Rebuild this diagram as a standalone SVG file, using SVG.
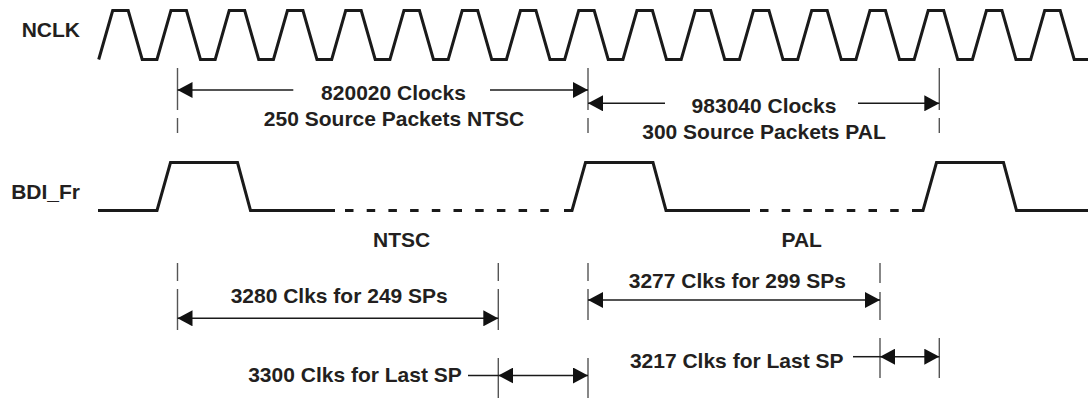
<svg xmlns="http://www.w3.org/2000/svg" width="1088" height="398" viewBox="0 0 1088 398">
<style>
.sig{fill:none;stroke:#1a1a1a;stroke-width:3;stroke-linejoin:miter}
.dsh{fill:none;stroke:#1a1a1a;stroke-width:3;stroke-dasharray:8.5 13.2}
.ext{fill:none;stroke:#555;stroke-width:1.4}
.dim{fill:none;stroke:#1a1a1a;stroke-width:1.5}
.arr{marker-end:url(#ah)}
.dbl{marker-start:url(#ah);marker-end:url(#ah)}
text{font-family:"Liberation Sans",Arial,Helvetica,sans-serif;font-weight:bold;font-size:21px;fill:#231f20}
.m{text-anchor:middle}
.e{text-anchor:end}
</style>
<defs>
<marker id="ah" viewBox="0 0 15 16" refX="15" refY="8" markerWidth="15" markerHeight="16" markerUnits="userSpaceOnUse" orient="auto-start-reverse">
<path d="M0,0 L15,8 L0,16 Z" fill="#111"/>
</marker>
</defs>
<rect width="1088" height="398" fill="#fff"/>
<g id="labels">
<text class="e" x="80" y="37">NCLK</text>
<text class="e" x="80" y="199">BDI_Fr</text>
<text class="m" x="401.7" y="246.7">NTSC</text>
<text class="m" x="801.7" y="246.7">PAL</text>
</g>
<g id="nclk">
<path class="sig" d="M98.7,59.5 L112.7,10.5 L128.2,10.5 L142.2,59.5 L156.95,59.5 L170.95,10.5 L186.45,10.5 L200.45,59.5 L215.2,59.5 L229.2,10.5 L244.7,10.5 L258.7,59.5 L273.45,59.5 L287.45,10.5 L302.95,10.5 L316.95,59.5 L331.7,59.5 L345.7,10.5 L361.2,10.5 L375.2,59.5 L389.95,59.5 L403.95,10.5 L419.45,10.5 L433.45,59.5 L448.2,59.5 L462.2,10.5 L477.7,10.5 L491.7,59.5 L506.45,59.5 L520.45,10.5 L535.95,10.5 L549.95,59.5 L564.7,59.5 L578.7,10.5 L594.2,10.5 L608.2,59.5 L622.95,59.5 L636.95,10.5 L652.45,10.5 L666.45,59.5 L681.2,59.5 L695.2,10.5 L710.7,10.5 L724.7,59.5 L739.45,59.5 L753.45,10.5 L768.95,10.5 L782.95,59.5 L797.7,59.5 L811.7,10.5 L827.2,10.5 L841.2,59.5 L855.95,59.5 L869.95,10.5 L885.45,10.5 L899.45,59.5 L914.2,59.5 L928.2,10.5 L943.7,10.5 L957.7,59.5 L972.45,59.5 L986.45,10.5 L1001.95,10.5 L1015.95,59.5 L1030.7,59.5 L1044.7,10.5 L1060.2,10.5 L1074.2,59.5 L1088,59.5"/>
</g>
<g id="bdi_fr">
<path class="sig" d="M98,210.5 L157,210.5 L170.5,162.5 L237.5,162.5 L250.5,210.5 L335,210.5"/>
<path class="dsh" d="M345,210.5 L562,210.5"/>
<path class="sig" d="M564,210.5 L572,210.5 L585.5,162.5 L653,162.5 L666,210.5 L750,210.5"/>
<path class="dsh" d="M760,210.5 L910,210.5"/>
<path class="sig" d="M912,210.5 L923,210.5 L936.5,162.5 L1003.5,162.5 L1016.5,210.5 L1088,210.5"/>
</g>
<g id="extension-lines">
<path class="ext" d="M177.5,68 V110 M177.5,118 V133 M588,68 V110 M588,118 V133 M939.3,68 V110 M939.3,118 V133"/>
<path class="ext" d="M177.5,263 V281 M177.5,289 V330 M498.3,263 V281 M498.3,289 V330 M498.3,358 V398 M588,263 V281 M588,289 V320 M588,358 V398 M880,263 V283 M880,292 V320 M880,338 V378 M939.3,338 V378"/>
</g>
<g id="connectors">
<line class="dim arr" x1="293.3" y1="90" x2="177.5" y2="90"/>
<line class="dim arr" x1="490" y1="90" x2="588" y2="90"/>
<line class="dim arr" x1="665" y1="103.3" x2="588" y2="103.3"/>
<line class="dim arr" x1="858" y1="103.3" x2="939.3" y2="103.3"/>
<line class="dim dbl" x1="177.5" y1="318.3" x2="498.3" y2="318.3"/>
<line class="dim dbl" x1="588" y1="300" x2="880" y2="300"/>
<line class="dim" x1="468" y1="375.5" x2="498.3" y2="375.5"/>
<line class="dim dbl" x1="498.3" y1="375.5" x2="588" y2="375.5"/>
<line class="dim" x1="853" y1="356.7" x2="880" y2="356.7"/>
<line class="dim dbl" x1="880" y1="356.7" x2="939.3" y2="356.7"/>
</g>
<g id="dimension-labels">
<text class="m" x="393.5" y="99.5">820020 Clocks</text>
<text class="m" x="394" y="125.5">250 Source Packets NTSC</text>
<text class="m" x="764" y="112.5">983040 Clocks</text>
<text class="m" x="764" y="138.5">300 Source Packets PAL</text>
<text class="m" x="339.2" y="303">3280 Clks for 249 SPs</text>
<text class="m" x="737.3" y="288">3277 Clks for 299 SPs</text>
<text class="m" x="355" y="382">3300 Clks for Last SP</text>
<text class="m" x="736.7" y="368">3217 Clks for Last SP</text>
</g>
</svg>
